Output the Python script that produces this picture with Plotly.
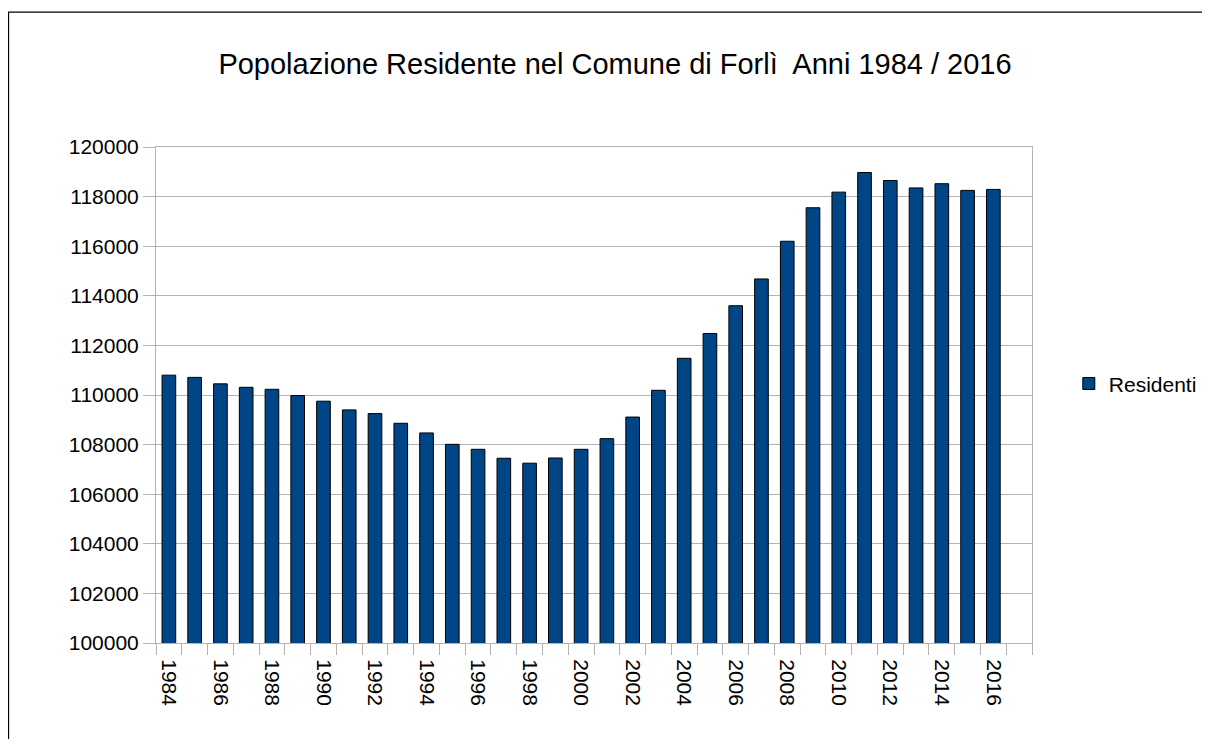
import plotly.graph_objects as go

years = list(range(1984, 2017))
residenti = [110800, 110710, 110450, 110310, 110230, 109980, 109750, 109400, 109250,
             108860, 108470, 108010, 107810, 107450, 107250, 107460, 107810, 108240,
             109110, 110190, 111480, 112480, 113600, 114680, 116200, 117550, 118180,
             118970, 118650, 118350, 118520, 118250, 118290]
tick_years = list(range(1984, 2017, 2))
title_text = "Popolazione Residente nel Comune di Forlì  Anni 1984 / 2016"
series_name = "Residenti"

OFF = 8  # default body margin of the html page
W, H = 1210 - OFF, 747 - 2 * OFF
L, R, T, B = 156 - OFF, 1031.7 - OFF, 147.3 - OFF, 643 - OFF
pw, ph = R - L, B - T

FONT = "Liberation Sans, Arial, sans-serif"
GRID = "#b3b3b3"

fig = go.Figure()
fig.add_trace(go.Bar(
    x=years, y=residenti, name=series_name, width=0.53,
    marker=dict(color="#004586", line=dict(color="#000000", width=1)),
    showlegend=True,
))

def px_x(x):
    return (x - OFF - L) / pw

def px_y(y):
    return (B - (y - OFF)) / ph

fig.update_layout(
    width=W, height=H,
    margin=dict(l=L, r=W - R, t=T, b=H - B, pad=0, autoexpand=False),
    paper_bgcolor="white", plot_bgcolor="white",
    font=dict(family=FONT, size=21, color="#000000"),
    title=dict(text=title_text, x=(615 - OFF) / W, xanchor="center",
               y=1 - (64 - OFF) / H, yanchor="middle",
               yref="container", xref="container",
               font=dict(size=29, family=FONT, color="#000000")),
    showlegend=True,
    legend=dict(x=px_x(1068.5), xanchor="left", y=px_y(384), yanchor="middle",
                font=dict(size=21), bgcolor="rgba(0,0,0,0)"),
    xaxis=dict(
        range=[1983.5, 2017.5], tickmode="array", tickvals=tick_years,
        ticktext=[str(y) for y in tick_years], tickangle=90,
        ticks="outside", ticklen=11, tickcolor="rgba(0,0,0,0)",
        showgrid=False, zeroline=False, automargin=False,
        showline=True, linecolor=GRID, linewidth=1, mirror=True,
        minor=dict(ticks="outside", ticklen=11, tickcolor=GRID, tickwidth=1,
                   tickvals=[y - 0.5 for y in range(1984, 2019)], showgrid=False),
        tickfont=dict(size=21),
    ),
    yaxis=dict(
        range=[100000, 120000], dtick=2000, tick0=100000,
        ticks="outside", ticklen=12, tickcolor=GRID, tickwidth=1,
        showgrid=True, gridcolor=GRID, gridwidth=1, zeroline=False, automargin=False,
        showline=True, linecolor=GRID, linewidth=1, mirror=True,
        tickformat="d", tickfont=dict(size=21),
    ),
    shapes=[dict(type="rect", xref="paper", yref="paper",
                 x0=px_x(8.6), x1=px_x(1230), y0=px_y(770), y1=px_y(12.5),
                 line=dict(color="#000000", width=1.2), fillcolor="rgba(0,0,0,0)", layer="above")],
)

fig.write_html("out.html")
